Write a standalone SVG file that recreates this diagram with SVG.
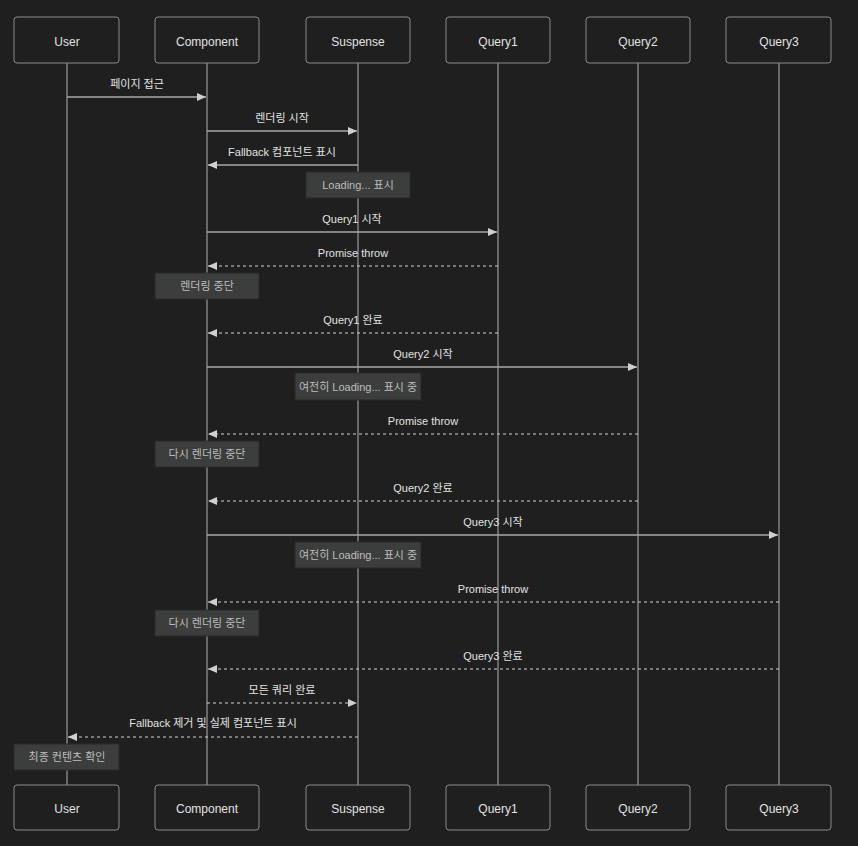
<svg xmlns="http://www.w3.org/2000/svg" width="858" height="846" viewBox="0 0 858 846">
<style>
.actor rect{fill:#1f1f1f;stroke:#8a8a8a;stroke-width:1}
.actor text{fill:#e2e2e2;font-family:"Liberation Sans","Noto Sans CJK KR",sans-serif;font-size:12px;text-anchor:middle;dominant-baseline:central}
.life{stroke:#9a9a9a;stroke-width:1.2}
.msg{stroke:#a8a8a8;stroke-width:1.3;fill:none}
.dash{stroke:#d0d0d0;stroke-width:1.2;stroke-dasharray:3 3;fill:none}
.lbl{fill:#e2e2e2;font-family:"Liberation Sans","Noto Sans CJK KR",sans-serif;font-size:11px;text-anchor:middle}
.note rect{fill:#3b3e3d;stroke:#2a2a2a;stroke-width:1}
.note text{fill:#bdbdbd;font-family:"Liberation Sans","Noto Sans CJK KR",sans-serif;font-size:11px;text-anchor:middle;dominant-baseline:central}
</style>
<defs>
<marker id="ah" markerWidth="10" markerHeight="10" refX="9" refY="5" orient="auto" markerUnits="userSpaceOnUse">
<path d="M0,1 L9,5 L0,9 Z" fill="#d0d0d0"/>
</marker>
</defs>
<rect x="0" y="0" width="858" height="846" fill="#1f1f1f"/>
<g id="lifelines">
<line class="life" x1="67" y1="63" x2="67" y2="785"/>
<line class="life" x1="207" y1="63" x2="207" y2="785"/>
<line class="life" x1="358" y1="63" x2="358" y2="785"/>
<line class="life" x1="498" y1="63" x2="498" y2="785"/>
<line class="life" x1="638" y1="63" x2="638" y2="785"/>
<line class="life" x1="779" y1="63" x2="779" y2="785"/>
</g>
<g id="actor-User-top" class="actor"><rect x="14" y="17" width="105" height="46" rx="3"/><text x="67" y="42">User</text></g>
<g id="actor-Component-top" class="actor"><rect x="155" y="17" width="104" height="46" rx="3"/><text x="207" y="42">Component</text></g>
<g id="actor-Suspense-top" class="actor"><rect x="306" y="17" width="104" height="46" rx="3"/><text x="358" y="42">Suspense</text></g>
<g id="actor-Query1-top" class="actor"><rect x="446" y="17" width="104" height="46" rx="3"/><text x="498" y="42">Query1</text></g>
<g id="actor-Query2-top" class="actor"><rect x="586" y="17" width="104" height="46" rx="3"/><text x="638" y="42">Query2</text></g>
<g id="actor-Query3-top" class="actor"><rect x="726" y="17" width="105" height="46" rx="3"/><text x="779" y="42">Query3</text></g>
<g id="actor-User-bottom" class="actor"><rect x="14" y="785" width="105" height="45" rx="3"/><text x="67" y="809">User</text></g>
<g id="actor-Component-bottom" class="actor"><rect x="155" y="785" width="104" height="45" rx="3"/><text x="207" y="809">Component</text></g>
<g id="actor-Suspense-bottom" class="actor"><rect x="306" y="785" width="104" height="45" rx="3"/><text x="358" y="809">Suspense</text></g>
<g id="actor-Query1-bottom" class="actor"><rect x="446" y="785" width="104" height="45" rx="3"/><text x="498" y="809">Query1</text></g>
<g id="actor-Query2-bottom" class="actor"><rect x="586" y="785" width="104" height="45" rx="3"/><text x="638" y="809">Query2</text></g>
<g id="actor-Query3-bottom" class="actor"><rect x="726" y="785" width="105" height="45" rx="3"/><text x="779" y="809">Query3</text></g>
<g id="connectors">
<line class="msg" x1="67" y1="97" x2="206" y2="97" marker-end="url(#ah)"/>
<text class="lbl" x="137" y="88">페이지 접근</text>
<line class="msg" x1="207" y1="131" x2="357" y2="131" marker-end="url(#ah)"/>
<text class="lbl" x="282" y="122">렌더링 시작</text>
<line class="msg" x1="358" y1="165" x2="208" y2="165" marker-end="url(#ah)"/>
<text class="lbl" x="282" y="156">Fallback 컴포넌트 표시</text>
<line class="msg" x1="207" y1="232" x2="497" y2="232" marker-end="url(#ah)"/>
<text class="lbl" x="352" y="223">Query1 시작</text>
<line class="dash" x1="498" y1="266" x2="208" y2="266" marker-end="url(#ah)"/>
<text class="lbl" x="353" y="257">Promise throw</text>
<line class="dash" x1="498" y1="333" x2="208" y2="333" marker-end="url(#ah)"/>
<text class="lbl" x="353" y="324">Query1 완료</text>
<line class="msg" x1="207" y1="367" x2="637" y2="367" marker-end="url(#ah)"/>
<text class="lbl" x="423" y="358">Query2 시작</text>
<line class="dash" x1="638" y1="434" x2="208" y2="434" marker-end="url(#ah)"/>
<text class="lbl" x="423" y="425">Promise throw</text>
<line class="dash" x1="638" y1="501" x2="208" y2="501" marker-end="url(#ah)"/>
<text class="lbl" x="423" y="492">Query2 완료</text>
<line class="msg" x1="207" y1="535" x2="778" y2="535" marker-end="url(#ah)"/>
<text class="lbl" x="493" y="526">Query3 시작</text>
<line class="dash" x1="779" y1="602" x2="208" y2="602" marker-end="url(#ah)"/>
<text class="lbl" x="493" y="593">Promise throw</text>
<line class="dash" x1="779" y1="669" x2="208" y2="669" marker-end="url(#ah)"/>
<text class="lbl" x="493" y="660">Query3 완료</text>
<line class="dash" x1="207" y1="703" x2="357" y2="703" marker-end="url(#ah)"/>
<text class="lbl" x="282" y="694">모든 쿼리 완료</text>
<line class="dash" x1="358" y1="737" x2="68" y2="737" marker-end="url(#ah)"/>
<text class="lbl" x="213" y="727">Fallback 제거 및 실제 컴포넌트 표시</text>
</g>
<g id="note-loading" class="note"><rect x="306" y="172" width="104" height="26"/><text x="358" y="185">Loading... 표시</text></g>
<g id="note-stop1" class="note"><rect x="155" y="273" width="104" height="26"/><text x="207" y="286">렌더링 중단</text></g>
<g id="note-still1" class="note"><rect x="295" y="373" width="126" height="27"/><text x="358" y="387">여전히 Loading... 표시 중</text></g>
<g id="note-stop2" class="note"><rect x="155" y="441" width="104" height="26"/><text x="207" y="454">다시 렌더링 중단</text></g>
<g id="note-still2" class="note"><rect x="295" y="542" width="126" height="26"/><text x="358" y="555">여전히 Loading... 표시 중</text></g>
<g id="note-stop3" class="note"><rect x="155" y="610" width="104" height="26"/><text x="207" y="623">다시 렌더링 중단</text></g>
<g id="note-final" class="note"><rect x="14" y="744" width="105" height="26"/><text x="67" y="757">최종 컨텐츠 확인</text></g>
</svg>
